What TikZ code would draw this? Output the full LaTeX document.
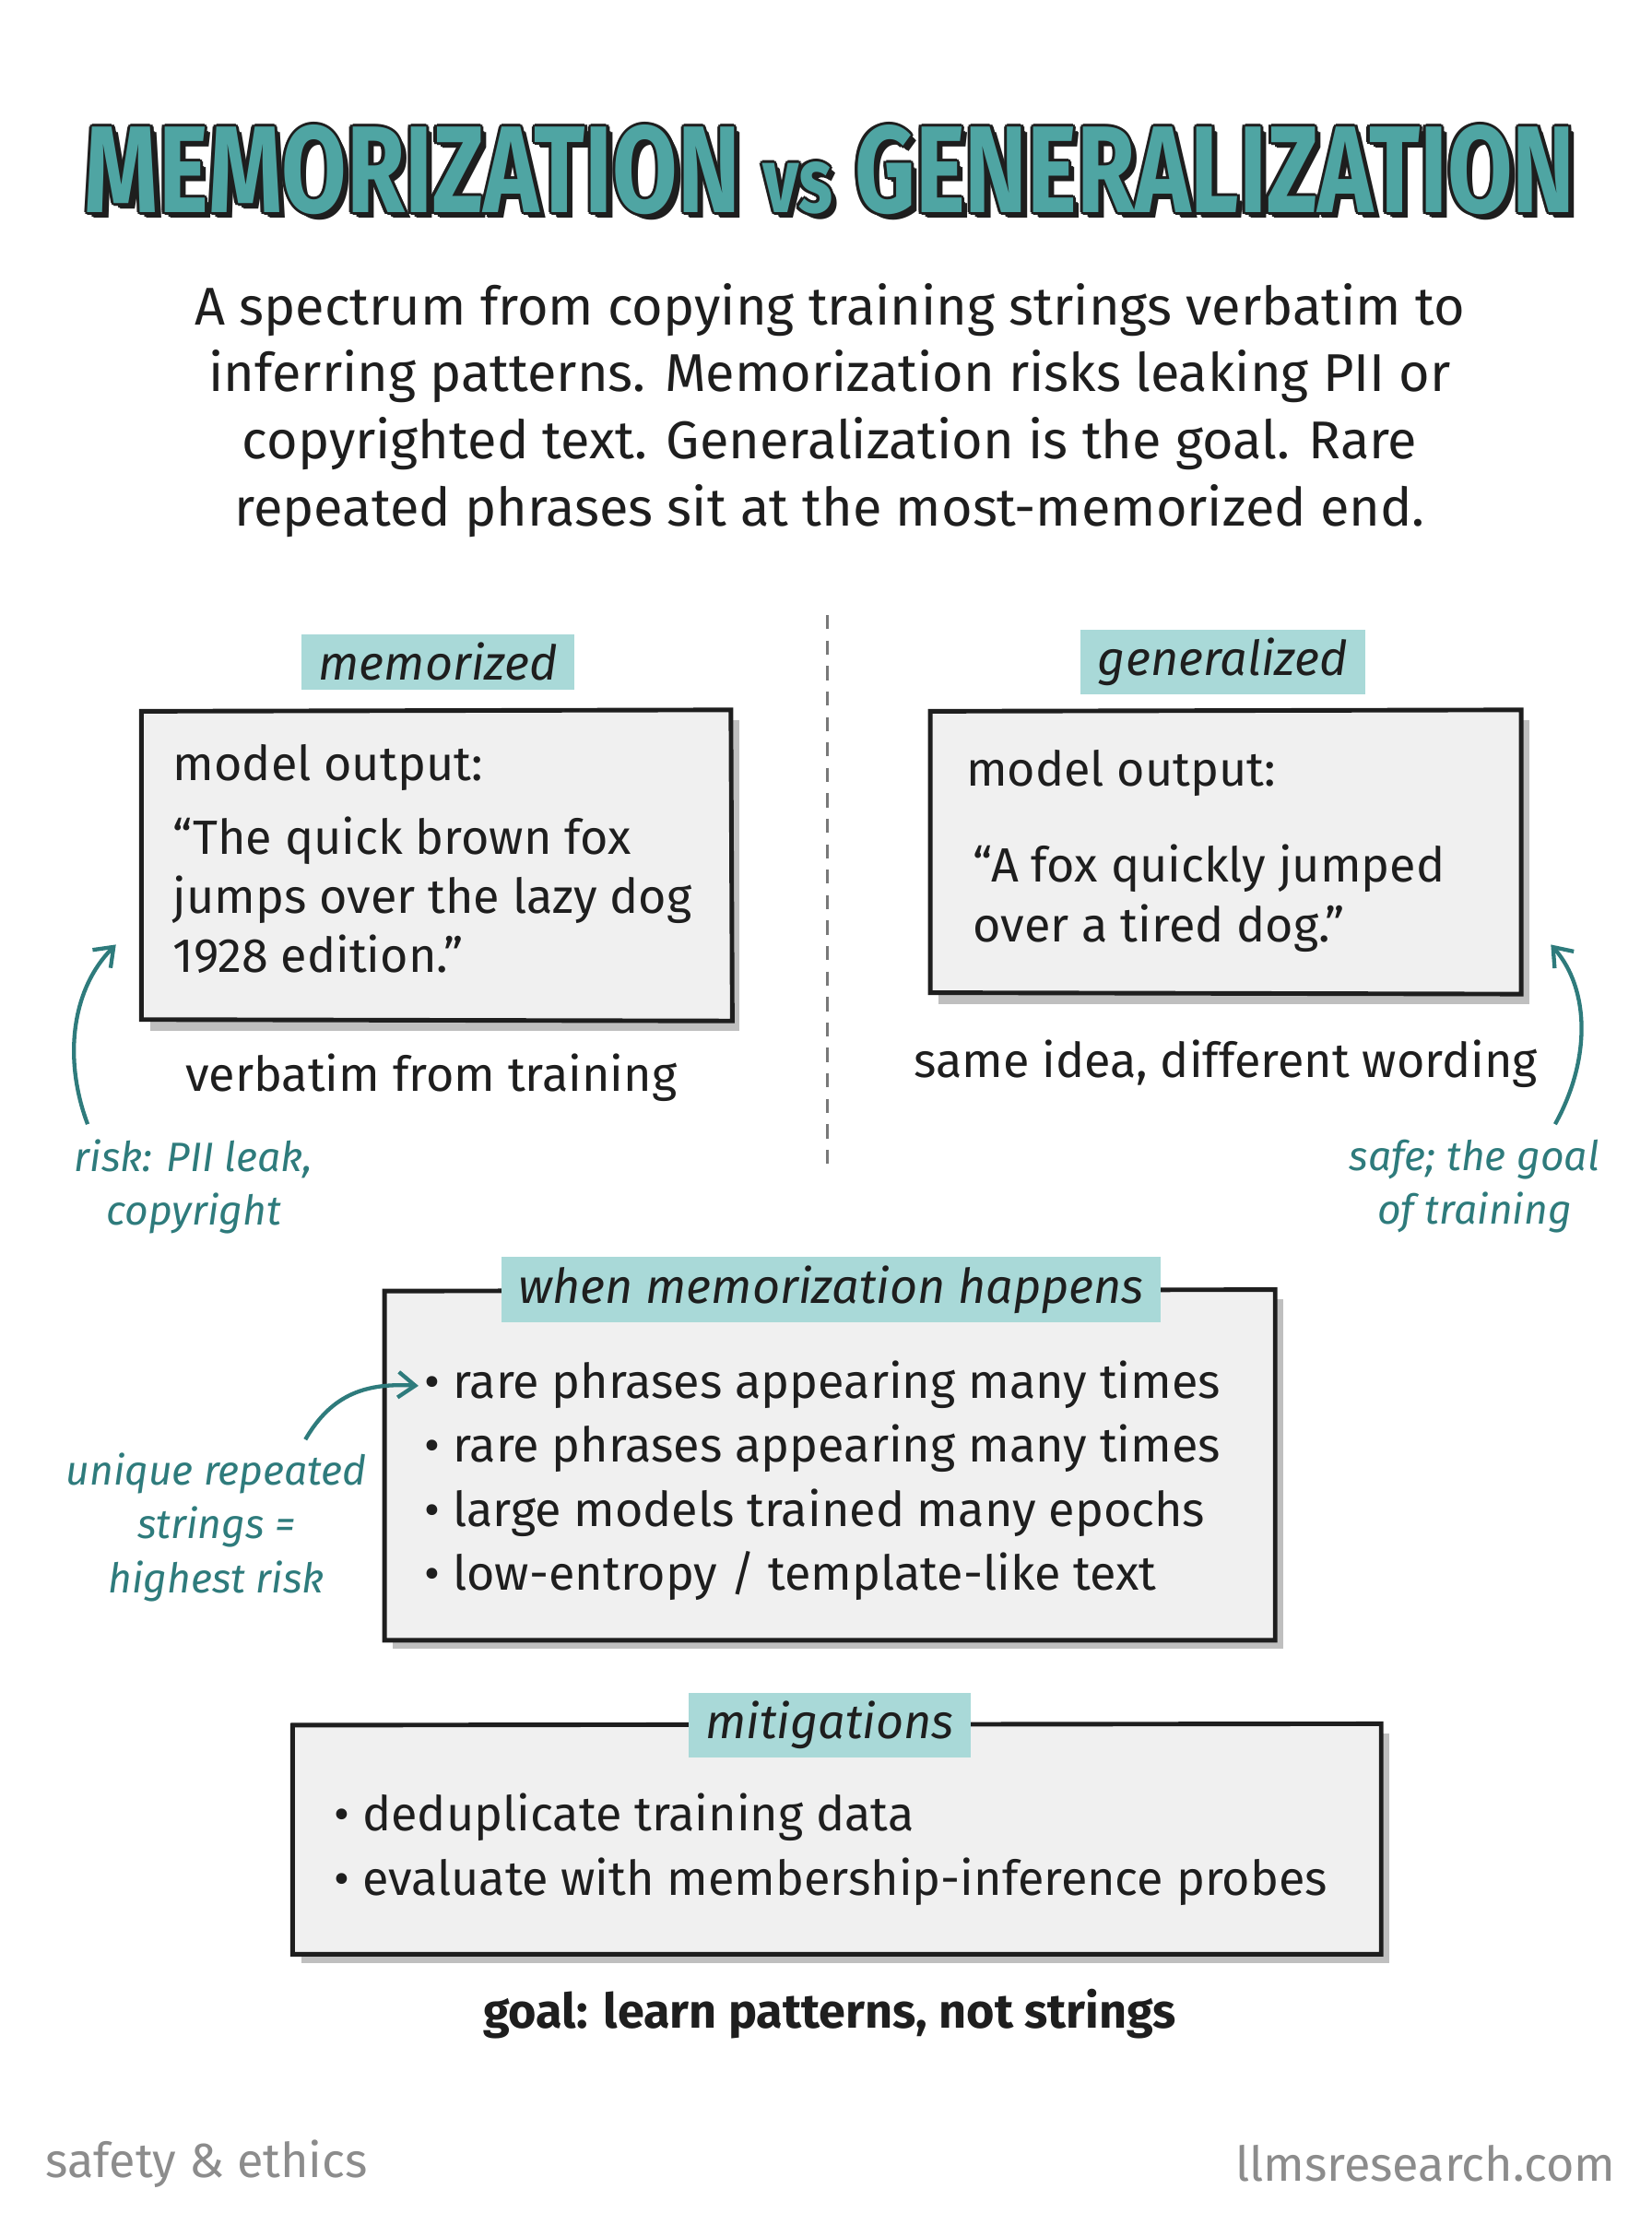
\documentclass[tikz,border=0pt]{standalone}
\usepackage{fontspec}
\setmainfont{Fira Sans}
\usetikzlibrary{arrows.meta}
\definecolor{teal1}{HTML}{2E7B7C}
\definecolor{hl}{HTML}{A9D9D8}
\definecolor{tfill}{HTML}{4FA5A3}
\definecolor{boxbg}{HTML}{F0F0F0}
\definecolor{ink}{HTML}{1E1E1E}
\begin{document}
\begin{tikzpicture}[x=0.5pt,y=-0.5pt,
  txt/.style={font=\fontsize{17}{21}\selectfont,text=ink,inner sep=0pt},
  note/.style={font=\fontsize{14.5}{19}\selectfont\itshape,text=teal1,inner sep=0pt,align=center},
  box/.style={draw=ink,line width=1.6pt,fill=boxbg},
  shadow/.style={fill=black!25},
  hlab/.style={fill=hl,font=\fontsize{17}{20}\selectfont\itshape,text=ink,inner xsep=6pt,inner ysep=3pt},
  arr/.style={draw=teal1,line width=1.4pt,-{Straight Barb[length=6pt,width=9pt]}}]
\useasboundingbox[fill=white] (0,0) rectangle (1168,1565);
% title
\def\ttl{\resizebox{527pt}{31pt}{\fontsize{40}{40}\selectfont\bfseries MEMORIZATION {\fontsize{30}{30}\selectfont vs} GENERALIZATION}}
\foreach \dx/\dy in {-2/0,2/0,0/-2,0/2,-1.5/-1.5,1.5/1.5,-1.5/1.5,1.5/-1.5,3/3,4/4}
  \node[inner sep=0pt,text=ink] (tt\dx\dy) at (587+\dx,120+\dy) {\ttl};
\node[inner sep=0pt,text=tfill] (title) at (587,120) {\ttl};
% description
\node[txt,align=center,font=\fontsize{18.8}{23.7}\selectfont] (desc) at (587,290) {A spectrum from copying training strings verbatim to\\inferring patterns. Memorization risks leaking PII or\\copyrighted text. Generalization is the goal. Rare\\repeated phrases sit at the most-memorized end.};
\draw[ink!60,line width=1pt,dash pattern=on 5pt off 4pt] (585,435) coordinate (d1) -- (585,830) coordinate (d2);
% left box
\fill[shadow] (106,509) rectangle (523,729);
\draw[box] (100,503) -- (517,502) -- (518,722) -- (100,721) -- cycle;
\node[hlab] (mem) at (310,468) {memorized};
\node[txt,anchor=west] (lo) at (122,543) {model output:};
\node[txt,anchor=north west,align=left,font=\fontsize{17}{21}\selectfont] (lq) at (122,577) {“The quick brown fox\\jumps over the lazy dog\\1928 edition.”};
\node[txt] (vt) at (305,762) {verbatim from training};
\coordinate (la1) at (62,795);
\coordinate (la2) at (82,668);
\draw[arr] (la1) .. controls (45,750) and (50,700) .. (la2);
\node[note] (risk) at (137,839) {risk: PII leak,\\copyright};
% right box
\fill[shadow] (664,509) rectangle (1082,710);
\draw[box] (658,503) -- (1076,502) -- (1076,703) -- (658,702) -- cycle;
\node[hlab] (gen) at (865,468) {generalized};
\node[txt,anchor=west] (ro) at (683,547) {model output:};
\node[txt,anchor=north west,align=left] (rq) at (688,597) {“A fox quickly jumped\\over a tired dog.”};
\node[txt] (si) at (867,752) {same idea, different wording};
\coordinate (ra1) at (1100,795);
\coordinate (ra2) at (1097,668);
\draw[arr] (ra1) .. controls (1125,750) and (1125,700) .. (ra2);
\node[note] (safe) at (1043,839) {safe; the goal\\of training};
% when box
\fill[shadow] (278,919) rectangle (908,1166);
\draw[box] (272,913) -- (902,912) -- (902,1160) -- (272,1160) -- cycle;
\node[hlab] (when) at (588,912) {when memorization happens};
\node[txt,anchor=north west,align=left,font=\fontsize{17}{22.6}\selectfont] (wl) at (300,962) {•\ rare phrases appearing many times\\•\ rare phrases appearing many times\\•\ large models trained many epochs\\•\ low-entropy / template-like text};
\coordinate (wa1) at (216,1018);
\coordinate (wa2) at (296,980);
\draw[arr] (wa1) .. controls (235,985) and (260,978) .. (wa2);
\node[note] (uniq) at (153,1080) {unique repeated\\strings =\\highest risk};
% mitigations
\fill[shadow] (213,1226) rectangle (983,1388);
\draw[box] (207,1220) -- (977,1219) -- (977,1382) -- (207,1382) -- cycle;
\node[hlab] (mit) at (587,1220) {mitigations};
\node[txt,anchor=north west,align=left,font=\fontsize{17}{22.6}\selectfont] (ml) at (236,1268) {•\ deduplicate training data\\•\ evaluate with membership-inference probes};
\node[txt,font=\fontsize{17}{21}\selectfont\bfseries] (goal) at (587,1424) {goal: learn patterns, not strings};
% footer
\node[txt,text=black!45,anchor=west,font=\fontsize{17}{20}\selectfont] (f1) at (32,1530) {safety \& ethics};
\node[txt,text=black!45,anchor=east,font=\fontsize{17}{20}\selectfont] (f2) at (1143,1530) {llmsresearch.com};
\end{tikzpicture}
\end{document}
